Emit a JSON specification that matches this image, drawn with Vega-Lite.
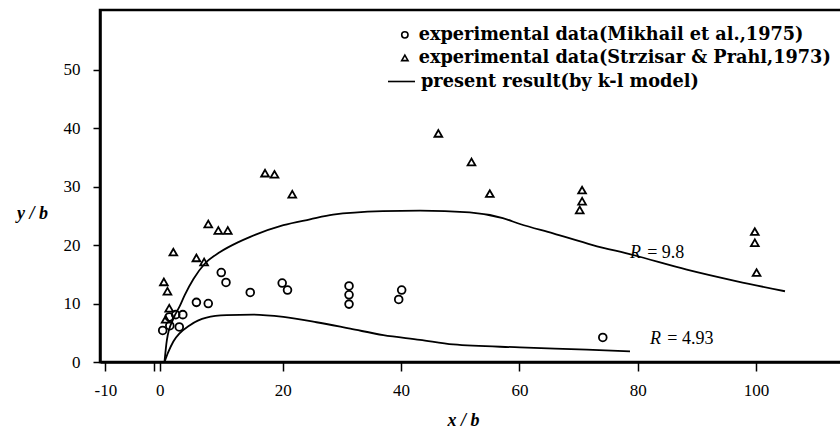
{
  "$schema": "https://vega.github.io/schema/vega-lite/v6.json",
  "width": 742,
  "height": 352,
  "autosize": "none",
  "padding": {"left": 100, "top": 10, "right": 0, "bottom": 70},
  "background": "white",
  "config": {
    "view": {"stroke": "black", "strokeWidth": 2.5},
    "font": "Liberation Serif"
  },
  "datasets": {
    "pts": [
      {"x": -0.3, "y": 5.4, "src": "experimental data(Mikhail et al.,1975)"},
      {"x": 0.8, "y": 7.7, "src": "experimental data(Mikhail et al.,1975)"},
      {"x": 0.9, "y": 6.2, "src": "experimental data(Mikhail et al.,1975)"},
      {"x": 1.9, "y": 8.1, "src": "experimental data(Mikhail et al.,1975)"},
      {"x": 3.1, "y": 8.1, "src": "experimental data(Mikhail et al.,1975)"},
      {"x": 2.5, "y": 6.0, "src": "experimental data(Mikhail et al.,1975)"},
      {"x": 5.4, "y": 10.2, "src": "experimental data(Mikhail et al.,1975)"},
      {"x": 7.4, "y": 10.0, "src": "experimental data(Mikhail et al.,1975)"},
      {"x": 9.6, "y": 15.3, "src": "experimental data(Mikhail et al.,1975)"},
      {"x": 10.4, "y": 13.6, "src": "experimental data(Mikhail et al.,1975)"},
      {"x": 14.5, "y": 11.9, "src": "experimental data(Mikhail et al.,1975)"},
      {"x": 19.9, "y": 13.5, "src": "experimental data(Mikhail et al.,1975)"},
      {"x": 20.8, "y": 12.3, "src": "experimental data(Mikhail et al.,1975)"},
      {"x": 31.2, "y": 13.0, "src": "experimental data(Mikhail et al.,1975)"},
      {"x": 31.2, "y": 11.5, "src": "experimental data(Mikhail et al.,1975)"},
      {"x": 31.2, "y": 9.9, "src": "experimental data(Mikhail et al.,1975)"},
      {"x": 40.1, "y": 12.3, "src": "experimental data(Mikhail et al.,1975)"},
      {"x": 39.6, "y": 10.7, "src": "experimental data(Mikhail et al.,1975)"},
      {"x": 74.1, "y": 4.2, "src": "experimental data(Mikhail et al.,1975)"},
      {"x": 7.4, "y": 23.6, "src": "experimental  data(Strzisar & Prahl,1973)"},
      {"x": 9.1, "y": 22.5, "src": "experimental  data(Strzisar & Prahl,1973)"},
      {"x": 10.7, "y": 22.5, "src": "experimental  data(Strzisar & Prahl,1973)"},
      {"x": 1.5, "y": 18.8, "src": "experimental  data(Strzisar & Prahl,1973)"},
      {"x": 5.4, "y": 17.8, "src": "experimental  data(Strzisar & Prahl,1973)"},
      {"x": 6.7, "y": 17.1, "src": "experimental  data(Strzisar & Prahl,1973)"},
      {"x": -0.1, "y": 13.7, "src": "experimental  data(Strzisar & Prahl,1973)"},
      {"x": 0.5, "y": 12.1, "src": "experimental  data(Strzisar & Prahl,1973)"},
      {"x": 0.8, "y": 9.2, "src": "experimental  data(Strzisar & Prahl,1973)"},
      {"x": 0.2, "y": 7.3, "src": "experimental  data(Strzisar & Prahl,1973)"},
      {"x": 17.0, "y": 32.3, "src": "experimental  data(Strzisar & Prahl,1973)"},
      {"x": 18.6, "y": 32.1, "src": "experimental  data(Strzisar & Prahl,1973)"},
      {"x": 21.6, "y": 28.7, "src": "experimental  data(Strzisar & Prahl,1973)"},
      {"x": 46.3, "y": 39.1, "src": "experimental  data(Strzisar & Prahl,1973)"},
      {"x": 51.9, "y": 34.2, "src": "experimental  data(Strzisar & Prahl,1973)"},
      {"x": 55.0, "y": 28.8, "src": "experimental  data(Strzisar & Prahl,1973)"},
      {"x": 70.6, "y": 29.4, "src": "experimental  data(Strzisar & Prahl,1973)"},
      {"x": 70.6, "y": 27.5, "src": "experimental  data(Strzisar & Prahl,1973)"},
      {"x": 70.2, "y": 26.0, "src": "experimental  data(Strzisar & Prahl,1973)"},
      {"x": 99.8, "y": 22.3, "src": "experimental  data(Strzisar & Prahl,1973)"},
      {"x": 99.8, "y": 20.4, "src": "experimental  data(Strzisar & Prahl,1973)"},
      {"x": 100.1, "y": 15.3, "src": "experimental  data(Strzisar & Prahl,1973)"}
    ],
    "curves": [
      {"R": "9.8", "x": 0, "y": 0},
      {"R": "9.8", "x": 0.4, "y": 3.7},
      {"R": "9.8", "x": 1.5, "y": 7.4},
      {"R": "9.8", "x": 2.6, "y": 9.6},
      {"R": "9.8", "x": 3.4, "y": 11.4},
      {"R": "9.8", "x": 4.9, "y": 14.2},
      {"R": "9.8", "x": 6.8, "y": 16.8},
      {"R": "9.8", "x": 9.4, "y": 18.8},
      {"R": "9.8", "x": 12.5, "y": 20.5},
      {"R": "9.8", "x": 14.5, "y": 21.4},
      {"R": "9.8", "x": 20.1, "y": 23.4},
      {"R": "9.8", "x": 24.6, "y": 24.4},
      {"R": "9.8", "x": 28.5, "y": 25.2},
      {"R": "9.8", "x": 36.9, "y": 25.8},
      {"R": "9.8", "x": 43.2, "y": 25.9},
      {"R": "9.8", "x": 51.6, "y": 25.6},
      {"R": "9.8", "x": 57.2, "y": 24.6},
      {"R": "9.8", "x": 60.1, "y": 23.6},
      {"R": "9.8", "x": 65.7, "y": 22.0},
      {"R": "9.8", "x": 72.4, "y": 20.0},
      {"R": "9.8", "x": 79.2, "y": 18.3},
      {"R": "9.8", "x": 88.3, "y": 15.8},
      {"R": "9.8", "x": 96.8, "y": 13.8},
      {"R": "9.8", "x": 104.9, "y": 12.1},
      {"R": "4.93", "x": 0, "y": 0},
      {"R": "4.93", "x": 0.6, "y": 1.6},
      {"R": "4.93", "x": 1.5, "y": 3.5},
      {"R": "4.93", "x": 4.3, "y": 6.3},
      {"R": "4.93", "x": 7.1, "y": 7.6},
      {"R": "4.93", "x": 10.5, "y": 8.0},
      {"R": "4.93", "x": 15.0, "y": 8.1},
      {"R": "4.93", "x": 20.1, "y": 7.7},
      {"R": "4.93", "x": 25.7, "y": 6.8},
      {"R": "4.93", "x": 31.4, "y": 5.7},
      {"R": "4.93", "x": 37.0, "y": 4.6},
      {"R": "4.93", "x": 43.2, "y": 3.8},
      {"R": "4.93", "x": 48.8, "y": 3.0},
      {"R": "4.93", "x": 60.1, "y": 2.5},
      {"R": "4.93", "x": 71.4, "y": 2.1},
      {"R": "4.93", "x": 78.7, "y": 1.8}
    ],
    "notes": [
      {"x": 78.7, "y": 18.7, "t": "R", "it": true},
      {"x": 81.6, "y": 18.7, "t": "= 9.8", "it": false},
      {"x": 82.1, "y": 4.0, "t": "R", "it": true},
      {"x": 85.0, "y": 4.0, "t": "= 4.93", "it": false}
    ]
  },
  "encoding": {
    "x": {
      "field": "x", "type": "quantitative",
      "scale": {"domain": [-10.9, 114.54], "nice": false, "zero": false},
      "axis": {
        "values": [-10, -1.7, -0.8, 20, 40, 60, 80, 100],
        "labelExpr": "datum.value == -1.7 ? '' : datum.value == -0.8 ? '0' : datum.value == -10 ? '-10' : datum.label",
        "title": "x / b",
        "titleFont": "Liberation Serif", "titleFontStyle": "italic", "titleFontWeight": "bold", "titleFontSize": 18,
        "titleX": 363, "titleY": 58, "titleAlign": "center", "titleBaseline": "middle",
        "labelFont": "Liberation Serif", "labelFontWeight": "normal", "labelFontSize": 17, "labelColor": "black",
        "labelPadding": 11, "tickSize": 9, "tickColor": "black", "tickWidth": 1.5,
        "domainColor": "black", "domainWidth": 2.5, "grid": false, "labelFlush": false,
        "encode": {"labels": {"stroke": {"value": "black"}, "strokeWidth": {"value": 0.7}}}
      }
    },
    "y": {
      "field": "y", "type": "quantitative",
      "scale": {"domain": [0, 60.2], "nice": false},
      "axis": {
        "values": [0, 10, 20, 30, 40, 50],
        "title": "y / b",
        "titleFont": "Liberation Serif", "titleFontStyle": "italic", "titleFontWeight": "bold", "titleFontSize": 18,
        "titleAngle": 0, "titleX": -68, "titleY": 203, "titleAlign": "center", "titleBaseline": "middle",
        "labelFont": "Liberation Serif", "labelFontWeight": "normal", "labelFontSize": 17, "labelColor": "black",
        "labelPadding": 13, "tickSize": 7, "tickColor": "black", "tickWidth": 1.5,
        "domainColor": "black", "domainWidth": 2.5, "grid": false, "labelFlush": false,
        "encode": {"labels": {"stroke": {"value": "black"}, "strokeWidth": {"value": 0.7}}}
      }
    }
  },
  "layer": [
    {
      "data": {"name": "curves"},
      "mark": {"type": "line", "strokeWidth": 1.8, "interpolate": "monotone", "clip": true},
      "encoding": {
        "detail": {"field": "R"},
        "order": {"field": "x", "type": "quantitative"},
        "color": {
          "datum": "present result(by k-l model)",
          "type": "nominal",
          "scale": {"range": ["black"]},
          "legend": {
            "title": null, "orient": "none", "legendX": 287, "legendY": 57,
            "labelFont": "DejaVu Serif", "labelFontWeight": 700, "labelFontSize": 17.7, "labelColor": "black",
            "labelLimit": 600, "symbolType": "stroke", "symbolSize": 729, "symbolStrokeWidth": 1.6,
            "symbolStrokeColor": "black", "labelOffset": 5
          }
        }
      }
    },
    {
      "data": {"name": "pts"},
      "mark": {"type": "point", "filled": false, "stroke": "black", "strokeWidth": 1.8, "opacity": 1, "size": 60},
      "encoding": {
        "shape": {
          "field": "src", "type": "nominal",
          "scale": {
            "domain": ["experimental data(Mikhail et al.,1975)", "experimental  data(Strzisar & Prahl,1973)"],
            "range": ["circle", "triangle-up"]
          },
          "legend": {
            "title": null, "orient": "none", "legendX": 296, "legendY": 16,
            "labelFont": "DejaVu Serif", "labelFontWeight": 700, "labelFontSize": 17.7, "labelColor": "black",
            "labelLimit": 600, "rowPadding": 4, "symbolStrokeWidth": 1.6, "symbolStrokeColor": "black",
            "symbolFillColor": "transparent", "symbolSize": 40, "labelOffset": 5
          }
        }
      }
    },
    {
      "data": {"name": "notes"},
      "transform": [{"filter": "datum.it"}],
      "mark": {"type": "text", "align": "left", "baseline": "middle", "font": "Liberation Serif", "fontStyle": "italic", "fontSize": 18, "color": "black"},
      "encoding": {"text": {"field": "t"}}
    },
    {
      "data": {"name": "notes"},
      "transform": [{"filter": "!datum.it"}],
      "mark": {"type": "text", "align": "left", "baseline": "middle", "font": "Liberation Serif", "fontSize": 18, "color": "black"},
      "encoding": {"text": {"field": "t"}}
    }
  ]
}
